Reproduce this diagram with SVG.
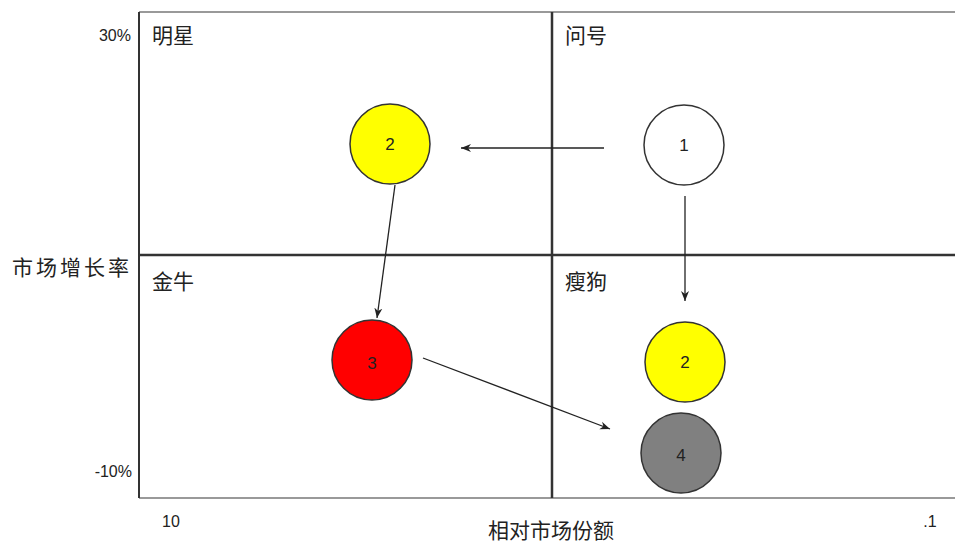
<svg xmlns="http://www.w3.org/2000/svg" width="955" height="544" viewBox="0 0 955 544">
<defs>
<style>
text{font-family:"Liberation Sans","Noto Sans CJK SC",sans-serif;fill:#222}
.lab{font-size:21px}
.ax{font-size:16px}
.num{font-size:17px;text-anchor:middle;dominant-baseline:central}
.node{stroke:#333;stroke-width:1.5}
.conn{stroke:#222;stroke-width:1.3;fill:none;marker-end:url(#ah)}
</style>
<marker id="ah" viewBox="0 0 10 10" refX="10" refY="5" markerWidth="10" markerHeight="10" markerUnits="userSpaceOnUse" orient="auto">
<path d="M0,1 L10,5 L0,9 L3,5 Z" fill="#222"/>
</marker>
</defs>
<rect width="955" height="544" fill="#fff"/>
<g id="frame">
<line x1="139" y1="12" x2="955" y2="12" stroke="#999" stroke-width="2"/>
<line x1="139" y1="498" x2="955" y2="498" stroke="#999" stroke-width="2"/>
<line x1="139" y1="12" x2="139" y2="498" stroke="#333" stroke-width="2"/>
<line x1="552" y1="12" x2="552" y2="498" stroke="#333" stroke-width="2.5"/>
<line x1="139" y1="255" x2="955" y2="255" stroke="#333" stroke-width="2.5"/>
</g>
<g id="labels">
<text class="ax" x="131" y="41" text-anchor="end">30%</text>
<text class="lab" x="152" y="43">明星</text>
<text class="lab" x="565" y="43">问号</text>
<text class="lab" x="12" y="275" letter-spacing="3">市场增长率</text>
<text class="lab" x="152" y="289">金牛</text>
<text class="lab" x="565" y="289">瘦狗</text>
<text class="ax" x="132" y="477" text-anchor="end">-10%</text>
<text class="ax" x="162" y="527">10</text>
<text class="ax" x="930" y="527" text-anchor="middle">.1</text>
<text class="lab" x="551" y="538" text-anchor="middle">相对市场份额</text>
</g>
<g id="connectors">
<line class="conn" x1="604" y1="148" x2="461" y2="148"/>
<line class="conn" x1="395" y1="185" x2="377" y2="318"/>
<line class="conn" x1="685" y1="196" x2="685" y2="301"/>
<line class="conn" x1="423" y1="358" x2="610" y2="429"/>
</g>
<g id="n1"><circle class="node" cx="684" cy="145" r="40" fill="#fff"/><text class="num" x="684" y="145">1</text></g>
<g id="n2a"><circle class="node" cx="390" cy="144" r="40" fill="#ffff00"/><text class="num" x="390" y="144">2</text></g>
<g id="n3"><circle class="node" cx="372" cy="360" r="40" fill="#ff0000"/><text class="num" x="372" y="363">3</text></g>
<g id="n2b"><circle class="node" cx="685" cy="362" r="40" fill="#ffff00"/><text class="num" x="685" y="362">2</text></g>
<g id="n4"><circle class="node" cx="681" cy="453" r="40" fill="#808080"/><text class="num" x="681" y="455">4</text></g>
</svg>
